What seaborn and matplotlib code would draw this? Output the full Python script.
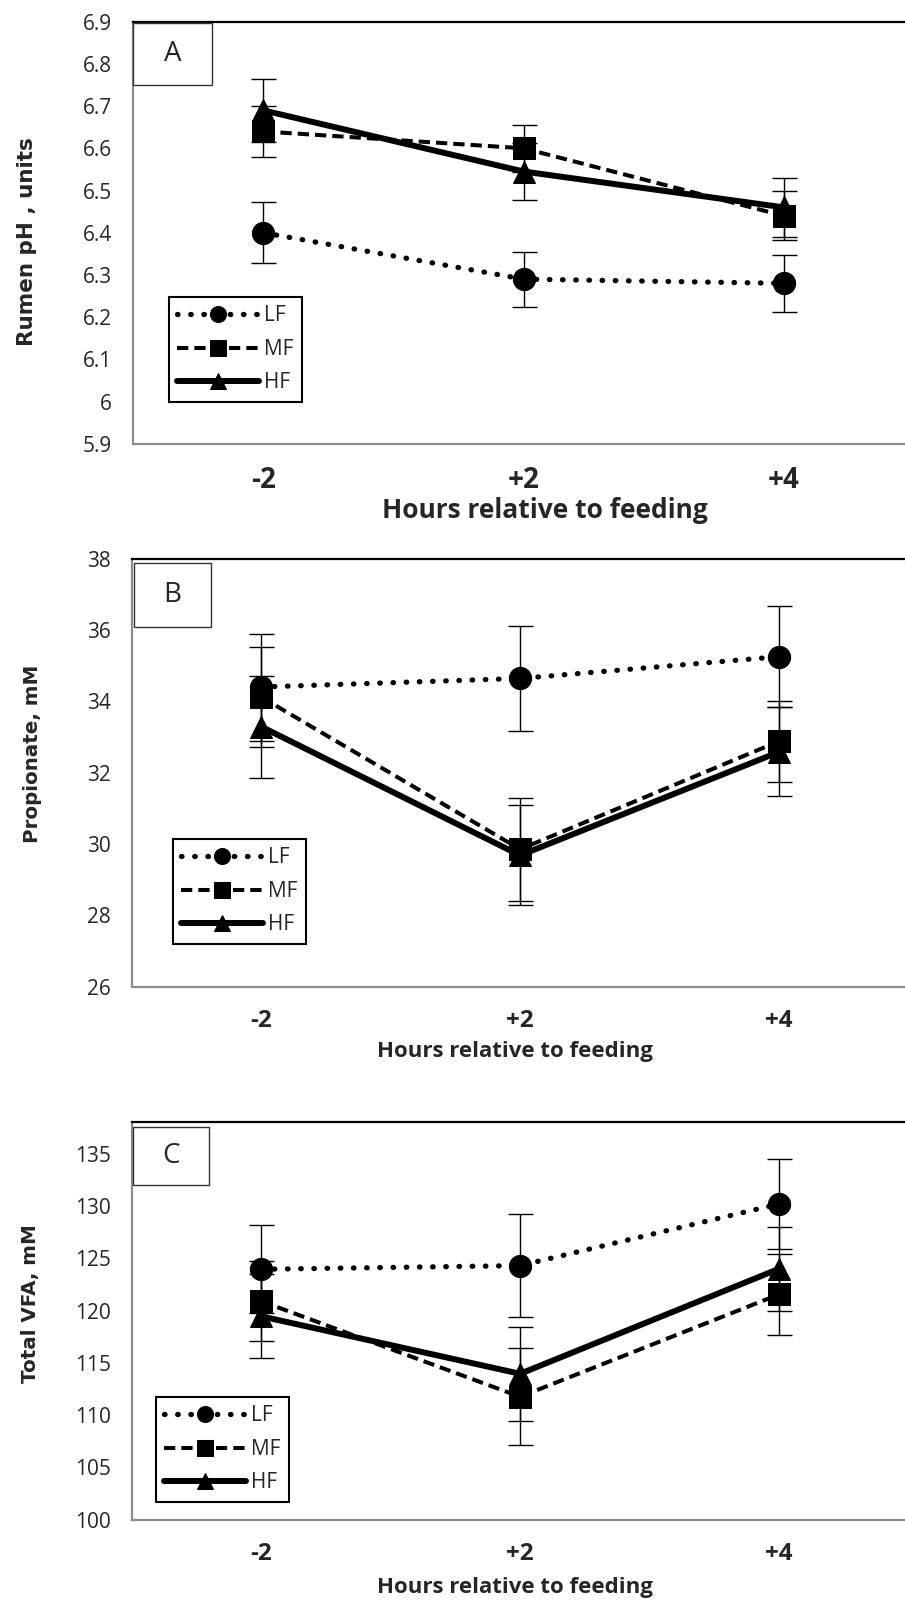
import numpy as np
import matplotlib
matplotlib.use('Agg')
import matplotlib.pyplot as plt
import seaborn as sns
from matplotlib.patches import Rectangle
from matplotlib.ticker import FixedLocator, FuncFormatter

# data
hours = ['-2', '+2', '+4']
diets = ['LF', 'MF', 'HF']

ph_mean = [[6.40, 6.29, 6.28],      # LF
           [6.64, 6.60, 6.44],      # MF
           [6.69, 6.545, 6.46]]     # HF
ph_se = [[0.072, 0.065, 0.068],
         [0.060, 0.055, 0.058],
         [0.075, 0.067, 0.070]]

prop_mean = [[34.40, 34.64, 35.25],
             [34.12, 29.85, 32.88],
             [33.29, 29.68, 32.58]]
prop_se = [[1.50, 1.47, 1.42],
           [1.40, 1.45, 1.13],
           [1.43, 1.40, 1.25]]

vfa_mean = [[123.95, 124.3, 130.2],
            [120.9, 111.75, 121.55],
            [119.45, 113.95, 124.0]]
vfa_se = [[4.2, 4.9, 4.3],
          [3.8, 4.65, 3.85],
          [4.0, 4.5, 4.0]]

sns.set_style('white')
plt.rcParams['font.family'] = ['Open Sans', 'DejaVu Sans']

W, H = 905, 1600
fig = plt.figure(figsize=(W / 100, H / 100), dpi=100)

# line styles for LF / MF / HF
markers = ['o', 's', '^']
styles = [(0, (0.1, 2.4)), (0, (2.8, 1.5)), '-']
widths = [3.8, 2.9, 4.3]
caps = ['round', 'butt', 'butt']

panels = [
    dict(mean=ph_mean, se=ph_se, ylim=(5.9, 6.9), ystep=0.1, ylabel='Rumen pH , units', tag='A',
         px=(133, 21.7, 914, 443.7), leg=(169, 297), tagbox=(133, 22.7, 212, 85),
         ylab=(27, 242), xlab=(545, 510), tick_fs=20, xlab_fs=19, ylab_fs=15.5),
    dict(mean=prop_mean, se=prop_se, ylim=(26, 38), ystep=2, ylabel='Propionate, mM', tag='B',
         px=(131.6, 558.6, 908.6, 986.6), leg=(173, 839), tagbox=(134, 563, 211, 627),
         ylab=(32, 754), xlab=(515, 1052), tick_fs=17.5, xlab_fs=16, ylab_fs=14.3),
    dict(mean=vfa_mean, se=vfa_se, ylim=(100, 138), ystep=5, ylabel='Total VFA, mM', tag='C',
         px=(131.6, 1122.4, 908.6, 1519.6), leg=(156, 1397), tagbox=(133, 1127, 209, 1185),
         ylab=(30, 1304), xlab=(515, 1588), tick_fs=17.5, xlab_fs=16, ylab_fs=14.3),
]

x_pos = np.arange(len(hours))
grey = '#8c8c8c'

for p in panels:
    x0, y0, x1, y1 = p['px']
    ax = fig.add_axes([x0 / W, 1 - y1 / H, (x1 - x0) / W, (y1 - y0) / H])

    for i, diet in enumerate(diets):
        ax.errorbar(x_pos, p['mean'][i], yerr=p['se'][i], fmt='none', ecolor='black',
                    elinewidth=1.0, capsize=9, capthick=1.0, zorder=2)
        sns.lineplot(x=x_pos, y=p['mean'][i], ax=ax, color='black', marker=markers[i],
                     markersize=16, markeredgecolor='black', linewidth=widths[i],
                     linestyle=styles[i], dash_capstyle=caps[i], label=diet, zorder=3)

    ax.set_xlim(-0.5, 2.5)
    ax.set_ylim(*p['ylim'])
    lo, hi = p['ylim']
    yt = np.arange(lo, hi + 1e-9, p['ystep'])
    if p['tag'] == 'C':
        yt = yt[yt <= 135]
    ax.yaxis.set_major_locator(FixedLocator(yt))
    ax.yaxis.set_major_formatter(FuncFormatter(lambda v, pos: '%g' % round(v, 2)))
    ax.set_xticks(x_pos)
    ax.set_xticklabels(hours, fontweight='bold', fontsize=p['tick_fs'])
    ax.xaxis.set_minor_locator(FixedLocator([-0.5, 0.5, 1.5, 2.5]))
    ax.tick_params(axis='x', which='major', length=0, pad=16)
    ax.tick_params(axis='x', which='minor', length=6, width=1, color=grey, direction='out')
    ax.tick_params(axis='y', length=6, width=1, color=grey, direction='out', pad=9,
                   labelsize=15)

    for s in ['left', 'bottom']:
        ax.spines[s].set_color(grey)
        ax.spines[s].set_linewidth(1.6)
    ax.spines['top'].set_color('black')
    ax.spines['top'].set_linewidth(1.6)
    ax.spines['right'].set_visible(False)

    ax.set_ylabel(p['ylabel'], fontfamily='DejaVu Sans', fontweight='bold', fontsize=p['ylab_fs'])
    ax.yaxis.label.set_va('center')
    ax.yaxis.set_label_coords((p['ylab'][0] - x0) / (x1 - x0), (y1 - p['ylab'][1]) / (y1 - y0))
    ax.set_xlabel('Hours relative to feeding', fontweight='bold', fontsize=p['xlab_fs'])
    ax.xaxis.label.set_va('center')
    ax.xaxis.set_label_coords((p['xlab'][0] - x0) / (x1 - x0), (y1 - p['xlab'][1]) / (y1 - y0))

    lx, ly = p['leg']
    leg = ax.legend(loc='upper left', bbox_to_anchor=((lx - x0) / (x1 - x0), (y1 - ly) / (y1 - y0)),
                    borderaxespad=0, frameon=True, fancybox=False, edgecolor='black',
                    framealpha=1, handlelength=3.9, markerscale=0.72, fontsize=15,
                    labelspacing=0.6, borderpad=0.4, handletextpad=0.25)
    leg.get_frame().set_linewidth(1.5)

    # panel tag box
    bx0, by0, bx1, by1 = p['tagbox']
    fig.add_artist(Rectangle((bx0 / W, 1 - by1 / H), (bx1 - bx0) / W, (by1 - by0) / H,
                             transform=fig.transFigure, facecolor='white', edgecolor='#333333',
                             linewidth=1.0))
    fig.text((bx0 + bx1) / 2 / W, 1 - (by0 + by1) / 2 / H, p['tag'], fontsize=20,
             ha='center', va='center')

fig.savefig('out.png', dpi=100)
